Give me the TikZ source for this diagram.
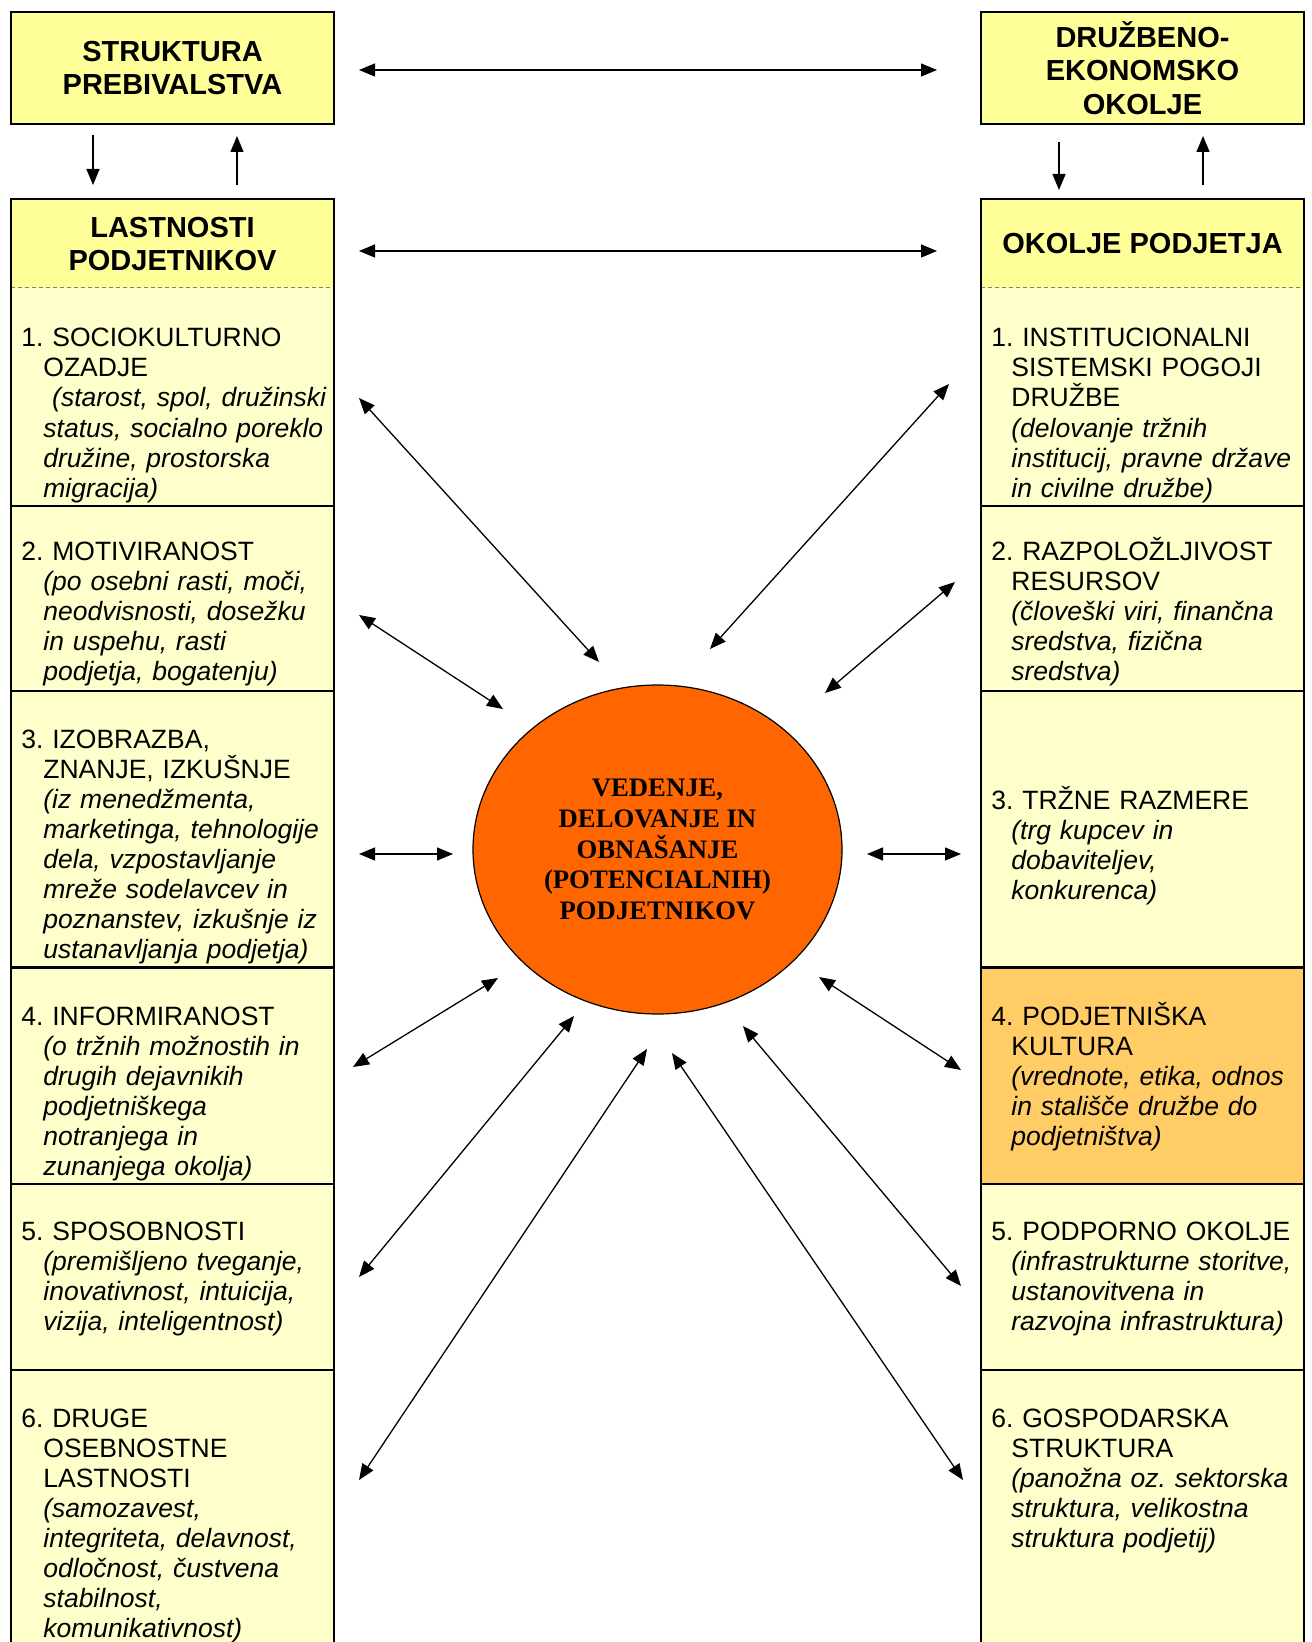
\documentclass[tikz,border=0pt]{standalone}
\usepackage{fontspec}
\setmainfont{Liberation Sans}
\newfontfamily\circfont{Liberation Serif}
\usetikzlibrary{arrows.meta,shapes.geometric}
\definecolor{hdrY}{HTML}{FFFF99}
\definecolor{bodyY}{HTML}{FFFFCC}
\definecolor{orangeBox}{HTML}{FFCC66}
\definecolor{circOr}{HTML}{FF6600}
\newcommand\hin{\hspace*{11pt}}
\newcommand\hir{\hspace*{10pt}}
\tikzset{
  hdrbox/.style={draw, line width=1.1pt, fill=hdrY, inner sep=0pt, minimum width=161.5pt, minimum height=56pt, align=center, font=\fontsize{14.5pt}{16.75pt}\selectfont\bfseries},
  colhdr/.style={inner sep=0pt, align=center, font=\fontsize{14.5pt}{16.75pt}\selectfont\bfseries},
  item/.style={inner sep=0pt, anchor=base west, text width=160pt, align=left, font=\fontsize{13.25pt}{15pt}\selectfont\frenchspacing},
  frame/.style={line width=1.1pt},
  arr/.style={line width=0.65pt, {Triangle[length=8pt,width=6.5pt]}-{Triangle[length=8pt,width=6.5pt]}},
  sarr/.style={line width=0.65pt, -{Triangle[length=8pt,width=6.5pt]}},
  sep/.style={draw=gray, line width=0.5pt, dash pattern=on 2pt off 1.5pt}
}
\begin{document}
\begin{tikzpicture}[x=0.5pt,y=-0.5pt]
\useasboundingbox (0,0) rectangle (1311,1642);
\clip (0,0) rectangle (1311,1642);
% top boxes
\node[hdrbox] (sp) at (172.5,68) {STRUKTURA\\PREBIVALSTVA};
\node[hdrbox] (do) at (1142.5,68) {DRUŽBENO-\\EKONOMSKO\\OKOLJE};
% left column
\fill[hdrY] (11,199) rectangle (334,288);
\fill[bodyY] (11,288) rectangle (334,1660);
\draw[sep] (11,288) -- (334,288);
\foreach \yy in {506,691,967.5,1184,1370} \draw[frame] (11,\yy) -- (334,\yy);
\draw[frame] (11,1660) -- (11,199) -- (334,199) -- (334,1660);
% right column
\fill[hdrY] (981,199) rectangle (1304,288);
\fill[bodyY] (981,288) rectangle (1304,1660);
\fill[orangeBox] (981,967.5) rectangle (1304,1184);
\draw[sep] (981,288) -- (1304,288);
\foreach \yy in {506,691,967.5,1184,1370} \draw[frame] (981,\yy) -- (1304,\yy);
\draw[frame] (981,1660) -- (981,199) -- (1304,199) -- (1304,1660);
% column headers
\node[colhdr] (lh) at (172.5,244) {LASTNOSTI\\PODJETNIKOV};
\node[colhdr] (rh) at (1142.5,244) {OKOLJE PODJETJA};
% left items
\node[item] (l1) at (21,347) {1. SOCIOKULTURNO\\\hin OZADJE\\\hin\itshape\ (starost, spol, družinski\\\hin status, socialno poreklo\\\hin družine, prostorska\\\hin migracija)};
\node[item] (l2) at (21,560) {2. MOTIVIRANOST\\\hin\itshape (po osebni rasti, moči,\\\hin neodvisnosti, dosežku\\\hin in uspehu, rasti\\\hin podjetja, bogatenju)};
\node[item] (l3) at (21,748) {3. IZOBRAZBA,\\\hin ZNANJE, IZKUŠNJE\\\hin\itshape (iz menedžmenta,\\\hin marketinga, tehnologije\\\hin dela, vzpostavljanje\\\hin mreže sodelavcev in\\\hin poznanstev, izkušnje iz\\\hin ustanavljanja podjetja)};
\node[item] (l4) at (21,1025) {4. INFORMIRANOST\\\hin\itshape (o tržnih možnostih in\\\hin drugih dejavnikih\\\hin podjetniškega\\\hin notranjega in\\\hin zunanjega okolja)};
\node[item] (l5) at (21,1240) {5. SPOSOBNOSTI\\\hin\itshape (premišljeno tveganje,\\\hin inovativnost, intuicija,\\\hin vizija, inteligentnost)};
\node[item] (l6) at (21,1427) {6. DRUGE\\\hin OSEBNOSTNE\\\hin LASTNOSTI\\\hin\itshape (samozavest,\\\hin integriteta, delavnost,\\\hin odločnost, čustvena\\\hin stabilnost,\\\hin komunikativnost)};
% right items
\node[item] (r1) at (991,347) {1. INSTITUCIONALNI\\\hir SISTEMSKI POGOJI\\\hir DRUŽBE\\\hir\itshape (delovanje tržnih\\\hir institucij, pravne države\\\hir in civilne družbe)};
\node[item] (r2) at (991,560) {2. RAZPOLOŽLJIVOST\\\hir RESURSOV\\\hir\itshape (človeški viri, finančna\\\hir sredstva, fizična\\\hir sredstva)};
\node[item] (r3) at (991,809) {3. TRŽNE RAZMERE\\\hir\itshape (trg kupcev in\\\hir dobaviteljev,\\\hir konkurenca)};
\node[item] (r4) at (991,1025) {4. PODJETNIŠKA\\\hir KULTURA\\\hir\itshape (vrednote, etika, odnos\\\hir in stališče družbe do\\\hir podjetništva)};
\node[item] (r5) at (991,1240) {5. PODPORNO OKOLJE\\\hir\itshape (infrastrukturne storitve,\\\hir ustanovitvena in\\\hir razvojna infrastruktura)};
\node[item] (r6) at (991,1427) {6. GOSPODARSKA\\\hir STRUKTURA\\\hir\itshape (panožna oz. sektorska\\\hir struktura, velikostna\\\hir struktura podjetij)};
% central ellipse
\node[ellipse, draw, line width=0.6pt, fill=circOr, minimum width=184.5pt, minimum height=164.5pt, inner sep=0pt, align=center, font=\fontsize{13.35pt}{15.3pt}\selectfont\circfont\bfseries] (c) at (657.5,849.5) {VEDENJE,\\DELOVANJE IN\\OBNAŠANJE\\(POTENCIALNIH)\\PODJETNIKOV};
% arrow end coordinates
\coordinate (h1a) at (359,70); \coordinate (h1b) at (937,70);
\coordinate (h2a) at (359,251); \coordinate (h2b) at (937,251);
\coordinate (v1a) at (93,135); \coordinate (v1b) at (93,185);
\coordinate (v2a) at (237,185); \coordinate (v2b) at (237,136);
\coordinate (v3a) at (1059,142); \coordinate (v3b) at (1059,190);
\coordinate (v4a) at (1203,185); \coordinate (v4b) at (1203,136);
\coordinate (la1) at (359,398); \coordinate (lb1) at (599,662);
\coordinate (la2) at (359,615); \coordinate (lb2) at (503,709);
\coordinate (la3) at (359,854); \coordinate (lb3) at (453,854);
\coordinate (la4) at (353,1067); \coordinate (lb4) at (498,978);
\coordinate (la5) at (359,1277); \coordinate (lb5) at (574,1016);
\coordinate (la6) at (359,1480); \coordinate (lb6) at (647,1049);
\coordinate (ra1) at (949,384); \coordinate (rb1) at (710,649);
\coordinate (ra2) at (955,582); \coordinate (rb2) at (825,693);
\coordinate (ra3) at (961,854); \coordinate (rb3) at (867,854);
\coordinate (ra4) at (961,1070); \coordinate (rb4) at (819,977);
\coordinate (ra5) at (961,1286); \coordinate (rb5) at (743,1026);
\coordinate (ra6) at (963,1480); \coordinate (rb6) at (672,1053);
% arrows
\draw[arr] (h1a) -- (h1b);
\draw[arr] (h2a) -- (h2b);
\draw[sarr] (v1a) -- (v1b);
\draw[sarr] (v2a) -- (v2b);
\draw[sarr] (v3a) -- (v3b);
\draw[sarr] (v4a) -- (v4b);
\foreach \i in {1,...,6} {
  \draw[arr] (la\i) -- (lb\i);
  \draw[arr] (ra\i) -- (rb\i);
}
\end{tikzpicture}
\end{document}
